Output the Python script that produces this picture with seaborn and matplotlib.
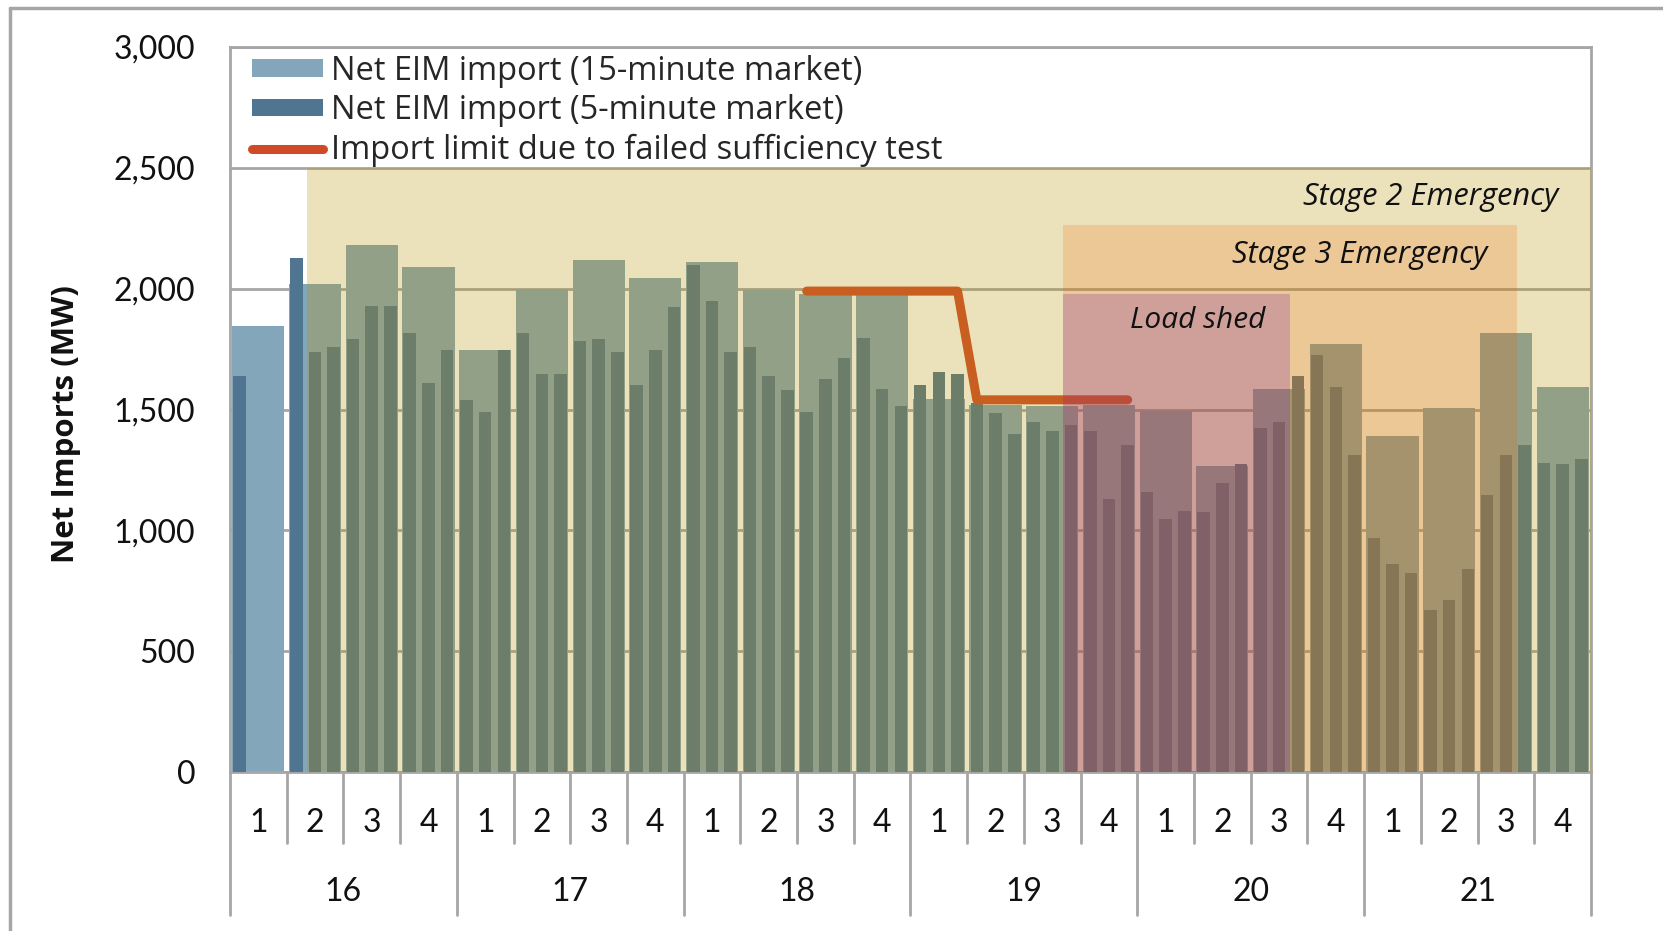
import matplotlib
matplotlib.use('Agg')
import matplotlib.pyplot as plt
import numpy as np
import pandas as pd
import seaborn as sns
from matplotlib.lines import Line2D
from matplotlib.patches import Patch
from matplotlib.ticker import FuncFormatter

# hour-ending and 15-minute interval within the hour
hours = [16, 17, 18, 19, 20, 21]
quarters = [1, 2, 3, 4]

# net EIM import, 15-minute market (MW), one per quarter
net_15min = [1845, 2020, 2180, 2090,
             1745, 2000, 2120, 2045,
             2110, 1995, 1980, 1980,
             1545, 1520, 1515, 1520,
             1495, 1265, 1585, 1770,
             1390, 1505, 1815, 1595]

# net EIM import, 5-minute market (MW), three per quarter
net_5min = [1640, np.nan, np.nan, 2128, 1740, 1760, 1790, 1930, 1930, 1815, 1610, 1745,
            1540, 1490, 1745, 1815, 1645, 1645, 1785, 1790, 1740, 1600, 1745, 1925,
            2100, 1950, 1740, 1760, 1640, 1580, 1490, 1625, 1715, 1795, 1585, 1515,
            1600, 1655, 1645, 1525, 1485, 1400, 1450, 1410, 1435, 1410, 1130, 1355,
            1160, 1045, 1080, 1075, 1195, 1275, 1425, 1450, 1640, 1725, 1595, 1310,
            970, 860, 825, 670, 710, 840, 1145, 1310, 1355, 1280, 1275, 1295]

# import limit after failed sufficiency test, from 5-minute interval 30 on
limit_first = 30
limit_mw = [1990, 1990, 1990, 1990, 1990, 1990, 1990, 1990, 1990,
            1540, 1540, 1540, 1540, 1540, 1540, 1540, 1540, 1540]

# emergency periods: (first 5-min interval, first interval after, label)
stage2 = (4, 72, 'Stage 2 Emergency')
stage3 = (44, 68, 'Stage 3 Emergency')
load_shed = (44, 56, 'Load shed')

LIGHT = '#83A6BA'
DARK = '#4F7590'
LIMIT = '#CE4A28'
GRID = '#A6A6A6'
INK = '#111111'
TEXT_FONT = ['Open Sans', 'DejaVu Sans']

sns.set_theme(style='white')
plt.rcParams['font.family'] = ['Lato', 'DejaVu Sans']

labels = [f'{h}-{q}' for h in hours for q in quarters]
df15 = pd.DataFrame({'interval': labels, 'mw': net_15min})
df5 = pd.DataFrame({'interval': np.repeat(labels, 3),
                    'sub': np.tile(['a', 'b', 'c'], len(labels)),
                    'mw': net_5min}).dropna()


def pos5(k):
    # centre of 5-minute bar k on the categorical axis
    return k // 3 + (k % 3 - 1) * 0.33


def edge5(k):
    return min(pos5(k) - 0.14, len(labels) - 0.5)


fig = plt.figure(figsize=(16.63, 9.31), dpi=100)
ax = fig.add_axes([0.1383, 0.1708, 0.8184, 0.7787])

sns.barplot(data=df15, x='interval', y='mw', order=labels, color=LIGHT,
            width=0.92, saturation=1, linewidth=0, errorbar=None, ax=ax, zorder=2)
sns.barplot(data=df5, x='interval', y='mw', hue='sub', order=labels,
            palette={'a': DARK, 'b': DARK, 'c': DARK}, width=0.99, gap=0.33,
            saturation=1, linewidth=0, errorbar=None, legend=False, ax=ax, zorder=3)

lim_x = [pos5(limit_first + i) for i in range(len(limit_mw))]
ax.plot(lim_x, limit_mw, color=LIMIT, lw=6.5, solid_capstyle='round',
        solid_joinstyle='round', zorder=4)

# shaded emergency periods drawn over the bars
shades = [(stage2, 2500, '#B99408', 0.28),
          (stage3, 2265, '#FA5D03', 0.19),
          (load_shed, 1980, '#7121A5', 0.24)]
for (k0, k1, _), top, col, a in shades:
    ax.fill_between([edge5(k0), edge5(k1)], 0, top, color=col, alpha=a,
                    lw=0, zorder=5)

ax.text(22.93, 2379, stage2[2], ha='right', va='center', style='italic',
        fontsize=22.2, color=INK, family=TEXT_FONT, zorder=6)
ax.text(21.68, 2141, stage3[2], ha='right', va='center', style='italic',
        fontsize=22.2, color=INK, family=TEXT_FONT, zorder=6)
ax.text(16.57, 1870, load_shed[2], ha='center', va='center', style='italic',
        fontsize=21.5, color=INK, family=TEXT_FONT, zorder=6)

ax.set_xlim(-0.5, len(labels) - 0.5)
ax.set_ylim(0, 3000)
ax.set_yticks(range(0, 3001, 500))
ax.yaxis.set_major_formatter(FuncFormatter(lambda v, p: f'{v:,.0f}'))
ax.tick_params(axis='y', length=0, pad=25, labelsize=23, labelcolor=INK)
ax.set_xticks([])
ax.set_xlabel('')
ax.set_ylabel('')
ax.yaxis.grid(True, color=GRID, lw=2)
ax.set_axisbelow(True)
for s in ax.spines.values():
    s.set_visible(True)
    s.set_color(GRID)
    s.set_linewidth(2)

# two-level category axis
trans = ax.get_xaxis_transform()
for i in range(len(labels)):
    ax.text(i, -0.0703, str(quarters[i % 4]), transform=trans, ha='center',
            va='center', fontsize=23, color=INK)
for b in range(len(labels) + 1):
    low = -0.197 if b % 4 == 0 else -0.098
    ax.plot([b - 0.5, b - 0.5], [0, low], transform=trans, color=GRID, lw=2,
            clip_on=False)
for j, h in enumerate(hours):
    ax.text(4 * j + 1.5, -0.1655, str(h), transform=trans, ha='center',
            va='center', fontsize=23, color=INK)

handles = [Patch(color=LIGHT, lw=0), Patch(color=DARK, lw=0),
           Line2D([], [], color=LIMIT, lw=6.5, solid_capstyle='round')]
names = ['Net EIM import (15-minute market)', 'Net EIM import (5-minute market)',
         'Import limit due to failed sufficiency test']
ax.legend(handles, names, loc='upper left', bbox_to_anchor=(0.011, 1.0),
          frameon=False, prop={'family': TEXT_FONT, 'size': 23.5},
          handlelength=2.15, handleheight=0.46, handletextpad=0.27,
          labelspacing=0.2, borderaxespad=0.1, borderpad=0.13)

fig.text(66 / 1663, 1 - 424 / 931, 'Net Imports (MW)', rotation=90,
         ha='center', va='center', fontsize=22.5, fontweight='bold',
         family=TEXT_FONT, color=INK)

# outer chart frame
fig.add_artist(Line2D([9.5 / 1663] * 2, [0, 1 - 8 / 931], transform=fig.transFigure,
                      color=GRID, lw=2.5))
fig.add_artist(Line2D([9.5 / 1663, 1], [1 - 8 / 931] * 2, transform=fig.transFigure,
                      color=GRID, lw=2.5))

fig.savefig('out.png', dpi=100)
